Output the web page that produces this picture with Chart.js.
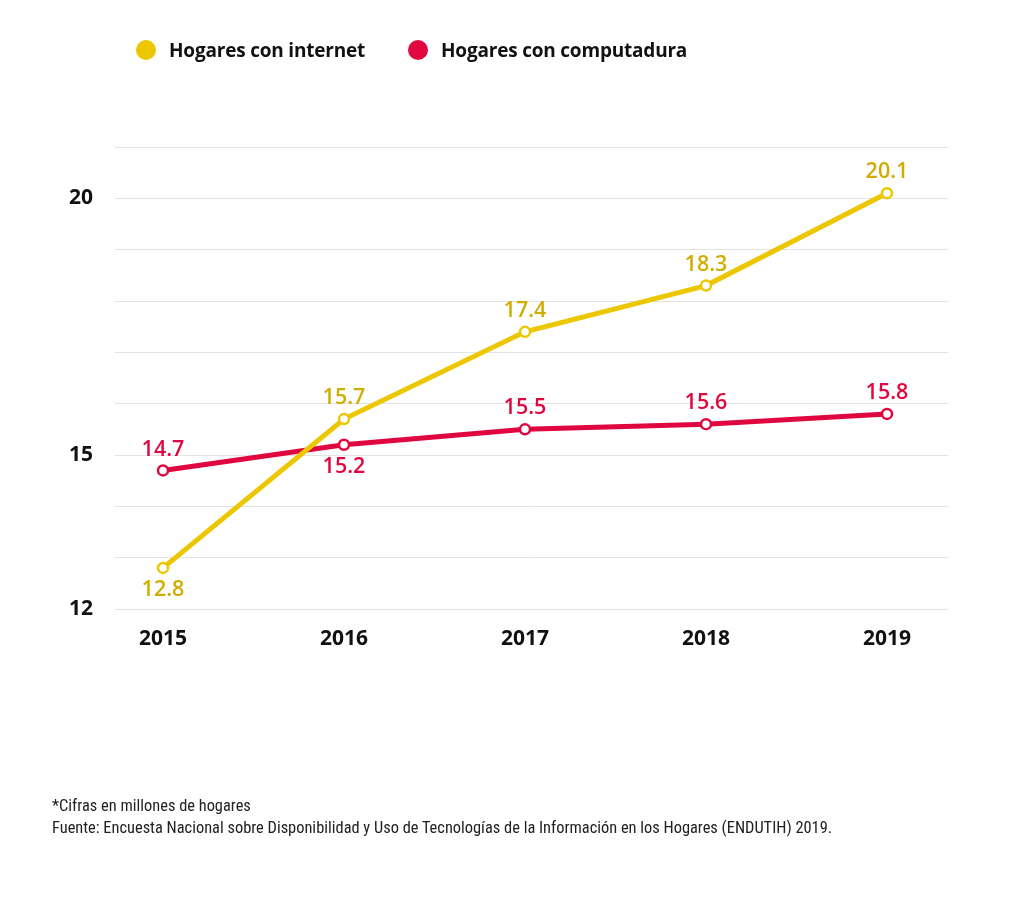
<!DOCTYPE html>
<html>
<head>
<meta charset="utf-8">
<script src="https://cdn.jsdelivr.net/npm/chart.js@4"></script>
<style>
  html, body { margin: 0; padding: 0; background: #fff; }
  #wrap { position: relative; width: 1024px; height: 924px; }
  canvas { position: absolute; left: 0; top: 0; }
  .legend { position: absolute; top: 37px; font-family: "Open Sans", sans-serif; font-weight: 700; font-size: 19px; color: #111; display: flex; align-items: center; letter-spacing: -0.2px; }
  .dot { width: 20px; height: 20px; border-radius: 50%; display: inline-block; margin-right: 13px; }
  .note { position: absolute; left: 52px; font-family: "Liberation Sans Narrow", "Roboto Condensed", "Open Sans", sans-serif; font-size: 16.4px; color: #222; }
</style>
</head>
<body>
<div id="wrap">
  <canvas id="c" width="1024" height="924"></canvas>
  <div class="legend" style="left:136px"><span class="dot" style="background:#ecc700"></span>Hogares con internet</div>
  <div class="legend" style="left:408px"><span class="dot" style="background:#e0063f"></span>Hogares con computadura</div>
  <div class="note" style="top:796px">*Cifras en millones de hogares</div>
  <div class="note" style="top:818px">Fuente: Encuesta Nacional sobre Disponibilidad y Uso de Tecnologías de la Información en los Hogares (ENDUTIH) 2019.</div>
</div>
<script>
const years = [2015, 2016, 2017, 2018, 2019];
const internet = [12.8, 15.7, 17.4, 18.3, 20.1];
const computadora = [14.7, 15.2, 15.5, 15.6, 15.8];
const yTickLabels = [12, 15, 20];
const internetLabelPos = ['below', 'above', 'above', 'above', 'above'];
const compLabelPos = ['above', 'below', 'above', 'above', 'above'];

const YELLOW = '#ecc700', YELLOW_TXT = '#d0ad00';
const RED = '#e0063f', RED_TXT = '#e0063f';

const labelPlugin = {
  id: 'valueLabels',
  afterDatasetsDraw(chart) {
    const ctx = chart.ctx;
    ctx.save();
    ctx.font = '600 21.5px "Open Sans", sans-serif';
    ctx.textAlign = 'center';
    ctx.textBaseline = 'middle';
    chart.data.datasets.forEach((ds, i) => {
      const meta = chart.getDatasetMeta(i);
      meta.data.forEach((pt, j) => {
        const pos = ds.labelPos[j];
        ctx.fillStyle = ds.labelColor;
        const y = pos === 'above' ? pt.y - 21 : pt.y + 22;
        ctx.fillText(ds.data[j].y.toFixed(1), pt.x, y);
      });
    });
    ctx.restore();
  }
};

new Chart(document.getElementById('c'), {
  type: 'line',
  data: {
    datasets: [
      {
        label: 'Hogares con internet',
        data: years.map((y, i) => ({ x: y, y: internet[i] })),
        borderColor: YELLOW, borderWidth: 5,
        pointRadius: 5, pointBorderWidth: 2.5, pointBackgroundColor: '#fff', pointBorderColor: YELLOW,
        labelColor: YELLOW_TXT, labelPos: internetLabelPos, tension: 0
      },
      {
        label: 'Hogares con computadura',
        data: years.map((y, i) => ({ x: y, y: computadora[i] })),
        borderColor: RED, borderWidth: 5,
        pointRadius: 5, pointBorderWidth: 2.5, pointBackgroundColor: '#fff', pointBorderColor: RED,
        labelColor: RED_TXT, labelPos: compLabelPos, tension: 0
      }
    ]
  },
  options: {
    responsive: false,
    animation: false,
    layout: { padding: { top: 147, right: 76, bottom: 255, left: 0 } },
    plugins: { legend: { display: false }, tooltip: { enabled: false } },
    scales: {
      x: {
        type: 'linear',
        min: 2015 - 48 / 181,
        max: 2019 + 61 / 181,
        grid: { display: false },
        border: { display: false },
        afterBuildTicks: s => { s.ticks = years.map(v => ({ value: v })); },
        afterFit: s => { s.height = 60; },
        ticks: {
          padding: 9,
          color: '#111',
          font: { family: '"Open Sans", sans-serif', weight: '700', size: 21 },
          callback: v => String(v)
        }
      },
      y: {
        min: 12, max: 21,
        afterBuildTicks: s => { const t = []; for (let v = 12; v <= 21; v++) t.push({ value: v }); s.ticks = t; },
        afterFit: s => { s.width = 115; },
        grid: { color: '#e3e3e3', lineWidth: 1, drawTicks: false },
        border: { display: false },
        ticks: {
          padding: 22,
          color: '#111',
          autoSkip: false,
          font: { family: '"Open Sans", sans-serif', weight: '700', size: 21 },
          callback: v => yTickLabels.includes(v) ? String(v) : ''
        }
      }
    }
  },
  plugins: [labelPlugin]
});
</script>
</body>
</html>
